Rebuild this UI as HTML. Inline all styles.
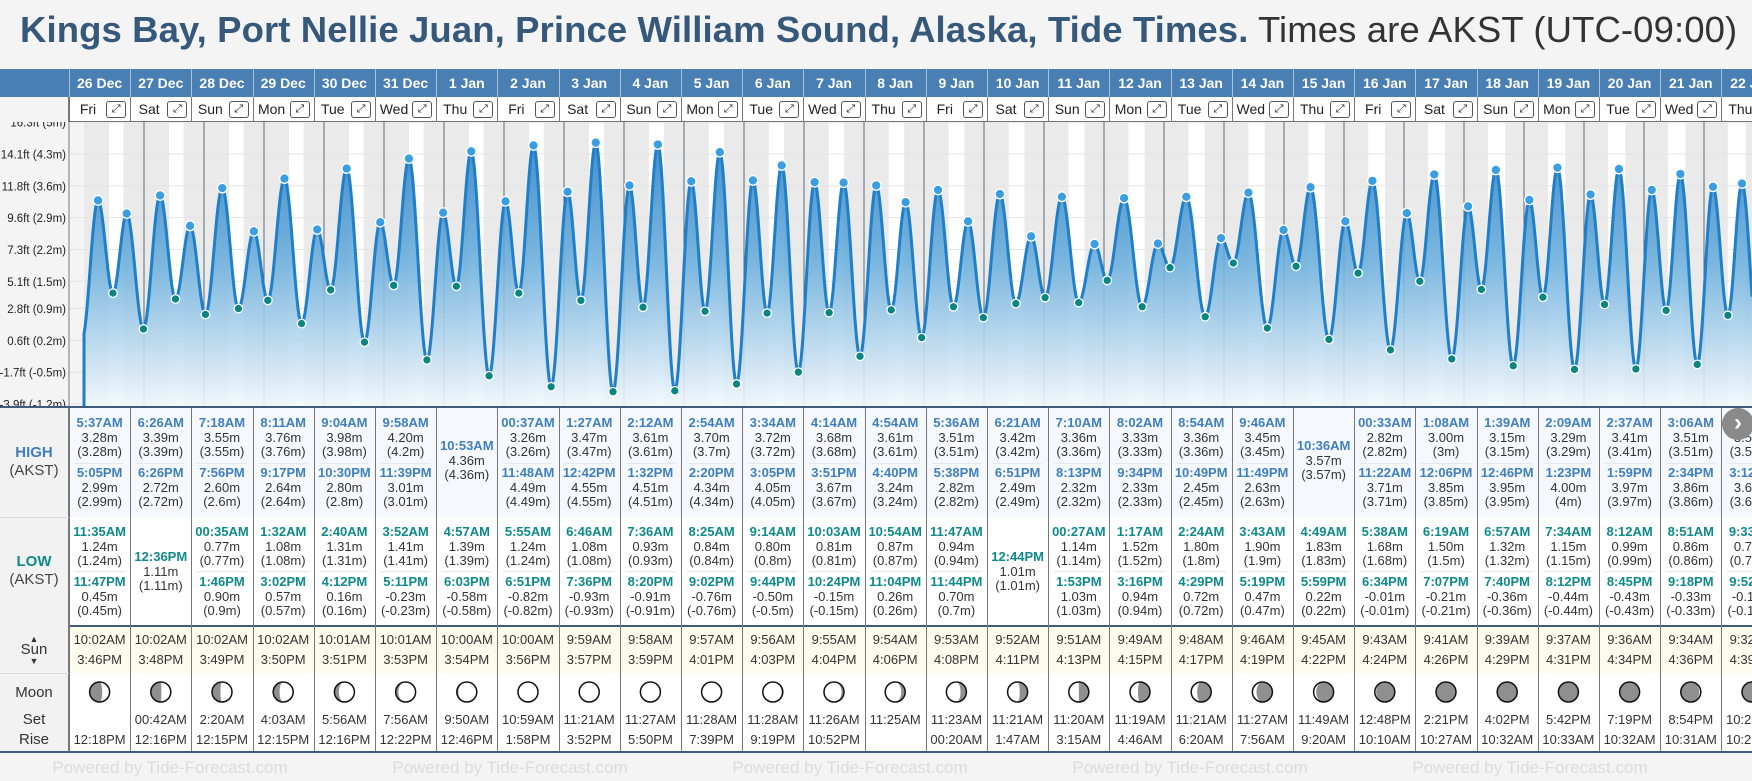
<!DOCTYPE html>
<html><head><meta charset="utf-8">
<style>
*{margin:0;padding:0;box-sizing:border-box}
body{width:1752px;height:781px;background:#f4f4f4;font-family:"Liberation Sans",sans-serif;position:relative;overflow:hidden;color:#333}
.abs{position:absolute}
#title{left:20px;top:9px;font-size:36.5px;white-space:nowrap;letter-spacing:0.1px}
#title b{color:#36597b}
#title span{color:#333}
.c{position:absolute;text-align:center;white-space:nowrap}
</style></head>
<body>
<div id="title" class="abs"><b>Kings Bay, Port Nellie Juan, Prince William Sound, Alaska, Tide Times.</b><span> Times are AKST (UTC-09:00)</span></div>
<div id="wrap" class="abs" style="left:0;top:0;width:1752px;height:781px;overflow:hidden"></div>
<script>
// ---- data ----
const dayLabels=["26 Dec","27 Dec","28 Dec","29 Dec","30 Dec","31 Dec","1 Jan","2 Jan","3 Jan","4 Jan","5 Jan","6 Jan","7 Jan","8 Jan","9 Jan","10 Jan","11 Jan","12 Jan","13 Jan","14 Jan","15 Jan","16 Jan","17 Jan","18 Jan","19 Jan","20 Jan","21 Jan","22 Jan"];
const weekdays=["Fri","Sat","Sun","Mon","Tue","Wed","Thu"];
const extDay=[-1,0,0,0,0,1,1,1,2,2,2,2,3,3,3,3,4,4,4,4,5,5,5,5,6,6,6,7,7,7,7,8,8,8,8,9,9,9,9,10,10,10,10,11,11,11,11,12,12,12,12,13,13,13,13,14,14,14,14,15,15,15,16,16,16,16,17,17,17,17,18,18,18,18,19,19,19,19,20,20,20,21,21,21,21,22,22,22,22,23,23,23,23,24,24,24,24,25,25,25,25,26,26,26,26,27,27,27,27];
const extTime=["11:10PM","5:37AM","11:35AM","5:05PM","11:47PM","6:26AM","12:36PM","6:26PM","00:35AM","7:18AM","1:46PM","7:56PM","1:32AM","8:11AM","3:02PM","9:17PM","2:40AM","9:04AM","4:12PM","10:30PM","3:52AM","9:58AM","5:11PM","11:39PM","4:57AM","10:53AM","6:03PM","00:37AM","5:55AM","11:48AM","6:51PM","1:27AM","6:46AM","12:42PM","7:36PM","2:12AM","7:36AM","1:32PM","8:20PM","2:54AM","8:25AM","2:20PM","9:02PM","3:34AM","9:14AM","3:05PM","9:44PM","4:14AM","10:03AM","3:51PM","10:24PM","4:54AM","10:54AM","4:40PM","11:04PM","5:36AM","11:47AM","5:38PM","11:44PM","6:21AM","12:44PM","6:51PM","00:27AM","7:10AM","1:53PM","8:13PM","1:17AM","8:02AM","3:16PM","9:34PM","2:24AM","8:54AM","4:29PM","10:49PM","3:43AM","9:46AM","5:19PM","11:49PM","4:49AM","10:36AM","5:59PM","00:33AM","5:38AM","11:22AM","6:34PM","1:08AM","6:19AM","12:06PM","7:07PM","1:39AM","6:57AM","12:46PM","7:40PM","2:09AM","7:34AM","1:23PM","8:12PM","2:37AM","8:12AM","1:59PM","8:45PM","3:06AM","8:51AM","2:34PM","9:18PM","3:35AM","9:33AM","3:12PM","9:52PM"];
const extHeight=[0.22,3.28,1.24,2.99,0.45,3.39,1.11,2.72,0.77,3.55,0.90,2.60,1.08,3.76,0.57,2.64,1.31,3.98,0.16,2.80,1.41,4.20,-0.23,3.01,1.39,4.36,-0.58,3.26,1.24,4.49,-0.82,3.47,1.08,4.55,-0.93,3.61,0.93,4.51,-0.91,3.70,0.84,4.34,-0.76,3.72,0.80,4.05,-0.50,3.68,0.81,3.67,-0.15,3.61,0.87,3.24,0.26,3.51,0.94,2.82,0.70,3.42,1.01,2.49,1.14,3.36,1.03,2.32,1.52,3.33,0.94,2.33,1.80,3.36,0.72,2.45,1.90,3.45,0.47,2.63,1.83,3.57,0.22,2.82,1.68,3.71,-0.01,3.00,1.50,3.85,-0.21,3.15,1.32,3.95,-0.36,3.29,1.15,4.00,-0.44,3.41,0.99,3.97,-0.43,3.51,0.86,3.86,-0.33,3.58,0.75,3.65,-0.15];
const sunRise=["10:02AM","10:02AM","10:02AM","10:02AM","10:01AM","10:01AM","10:00AM","10:00AM","9:59AM","9:58AM","9:57AM","9:56AM","9:55AM","9:54AM","9:53AM","9:52AM","9:51AM","9:49AM","9:48AM","9:46AM","9:45AM","9:43AM","9:41AM","9:39AM","9:37AM","9:36AM","9:34AM","9:32AM"];
const sunSet=["3:46PM","3:48PM","3:49PM","3:50PM","3:51PM","3:53PM","3:54PM","3:56PM","3:57PM","3:59PM","4:01PM","4:03PM","4:04PM","4:06PM","4:08PM","4:11PM","4:13PM","4:15PM","4:17PM","4:19PM","4:22PM","4:24PM","4:26PM","4:29PM","4:31PM","4:34PM","4:36PM","4:39PM"];
const moonSet=["","00:42AM","2:20AM","4:03AM","5:56AM","7:56AM","9:50AM","10:59AM","11:21AM","11:27AM","11:28AM","11:28AM","11:26AM","11:25AM","11:23AM","11:21AM","11:20AM","11:19AM","11:21AM","11:27AM","11:49AM","12:48PM","2:21PM","4:02PM","5:42PM","7:19PM","8:54PM","10:28PM"];
const moonRise=["12:18PM","12:16PM","12:15PM","12:15PM","12:16PM","12:22PM","12:46PM","1:58PM","3:52PM","5:50PM","7:39PM","9:19PM","10:52PM","","00:20AM","1:47AM","3:15AM","4:46AM","6:20AM","7:56AM","9:20AM","10:10AM","10:27AM","10:32AM","10:33AM","10:32AM","10:31AM","10:29AM"];
const yTicksFt=["16.3ft (5m)","14.1ft (4.3m)","11.8ft (3.6m)","9.6ft (2.9m)","7.3ft (2.2m)","5.1ft (1.5m)","2.8ft (0.9m)","0.6ft (0.2m)","-1.7ft (-0.5m)","-3.9ft (-1.2m)"];
const yTicksM=[5,4.3,3.6,2.9,2.2,1.5,0.9,0.2,-0.5,-1.2];

// ---- layout ----
const COL0=69, COLW=61.2;
const X0=84, PXH=2.5;
function parseT(s){const m=s.match(/(\d+):(\d+)(AM|PM)/);let h=+m[1]%12;if(m[3]=="PM")h+=12;return h+ +m[2]/60;}
function xT(day,s){return X0+(day*24+parseT(s))*PXH;}
function yM(m){return 404-(m+1.2)*45.45;}
const NS="http://www.w3.org/2000/svg";
const wrap=document.getElementById('wrap');
function div(x,y,w,h,css,name,inter){const d=document.createElement('div');d.className='abs';d.style.cssText=`left:${x}px;top:${y}px;width:${w}px;height:${h}px;`+(css||'');


wrap.appendChild(d);return d;}
function txt(x,y,s,css,name){const d=document.createElement('div');d.className='c';d.style.cssText=`left:${x-60}px;width:120px;top:${y-9}px;line-height:18px;`+(css||'');d.textContent=s;


wrap.appendChild(d);return d;}

div(0,69,1752,28,'background:#4a7fb4','header-band',false);
div(0,97,1752,25,'background:#fff;border-bottom:1px solid #777','weekday-row',false);
div(0,97,69,25,'background:#f4f4f4;border-right:1px solid #777','weekday-row-label',false);

const svg=document.createElementNS(NS,'svg');
svg.setAttribute('width',1752);svg.setAttribute('height',285);
svg.style.cssText='position:absolute;left:0;top:122px';


svg.setAttribute('viewBox','0 122 1752 285');
wrap.appendChild(svg);
function el(tag,attrs,name){const e=document.createElementNS(NS,tag);for(const k in attrs)e.setAttribute(k,attrs[k]);


svg.appendChild(e);return e;}
svg.innerHTML='<defs><linearGradient id="fg" x1="0" y1="0" x2="0" y2="1"><stop offset="0" stop-color="#2a80c6"/><stop offset="0.45" stop-color="#6aaedc"/><stop offset="1" stop-color="#f2f8fd"/></linearGradient></defs>';
el('rect',{x:0,y:122,width:69,height:285,fill:'#f4f4f4'},'y-axis-panel');
el('rect',{x:69,y:122,width:1683,height:285,fill:'#f4f4f4'},'plot-background');
for(let d=0;d<28;d++){
  const ns=d==0?X0:xT(d-1,sunSet[d-1]);const sr=xT(d,sunRise[d]);const ss=xT(d,sunSet[d]);
  el('rect',{x:ns,y:122,width:sr-ns,height:285,fill:'#eaeaea'},'night-band');
  el('rect',{x:sr,y:122,width:ss-sr,height:285,fill:'#ffffff'},'daylight-band');
}
el('rect',{x:xT(27,sunSet[27]),y:122,width:200,height:285,fill:'#eaeaea'},'night-band');
yTicksM.forEach((m,i)=>{el('line',{x1:69,x2:1752,y1:yM(m),y2:yM(m),stroke:'#e4e4e4','stroke-width':1},'y-gridline');});
for(let d=1;d<28;d++){el('line',{x1:X0+d*60,x2:X0+d*60,y1:122,y2:406,stroke:'#5b6b7b','stroke-width':1},'midnight-line');}
const ext=extDay.map((d,i)=>({x:xT(d,extTime[i]),m:extHeight[i]}));
let pts=[];
for(let x=X0;x<=1752;x+=1){let k=0;while(k<ext.length-2&&ext[k+1].x<x)k++;const a=ext[k],b=ext[k+1];const f=(x-a.x)/(b.x-a.x);const m=a.m+(b.m-a.m)*(1-Math.cos(Math.PI*f))/2;pts.push([x,yM(m)]);}
const line=pts.map((p,i)=>(i?'L':'M')+p[0].toFixed(1)+','+p[1].toFixed(1)).join('');
el('path',{d:line+`L1752,406L${X0},406Z`,fill:'url(#fg)','fill-opacity':0.88},'tide-area');
el('path',{d:`M${X0},406L${X0},${pts[0][1].toFixed(1)}`+line.replace(/^M/,'L'),fill:'none',stroke:'#1f7fc9','stroke-width':3,'stroke-linejoin':'round'},'tide-line');
ext.forEach((e,i)=>{if(i==0)return;const hi=e.m>ext[i-1].m;
  el('circle',{cx:e.x,cy:yM(e.m),r:hi?4.8:4.3,fill:hi?'#3a9fe2':'#0b8582',stroke:'#fff','stroke-width':1.3},hi?'high-tide-point':'low-tide-point');});
yTicksFt.forEach((s,i)=>{const t=el('text',{x:66,y:yM(yTicksM[i])+4.5,'text-anchor':'end','font-size':11.5,fill:'#222','font-family':'Liberation Sans, sans-serif'},'y-tick-label');t.textContent=s;});
el('line',{x1:69,x2:69,y1:122,y2:406,stroke:'#777'},'y-axis-line');

div(0,406,1752,2,'background:#3e5d7c','chart-divider',false);
div(0,408,1752,109,'background:#f5f9fd','high-row',false);
div(0,517,1752,108,'background:#fff','low-row',false);
div(0,625,1752,2,'background:#3e5d7c','section-divider',false);
div(0,627,1752,46,'background:#fbfbee','sun-row',false);
div(0,673,1752,78,'background:#fff','moon-row',false);
div(0,751,1752,2,'background:#3e5d7c','table-bottom-border',false);
div(0,408,69,343,'background:#f2f2f2;border-right:1px solid #777','row-label-column',false);
div(0,517,69,1,'background:#ddd','label-separator',false);
div(0,673,69,1,'background:#ddd','label-separator',false);
txt(34,453,'HIGH','font-weight:bold;color:#3f7fbf;font-size:15px','high-label');
txt(34,471,'(AKST)','font-size:15px;color:#444','high-timezone');
txt(34,562,'LOW','font-weight:bold;color:#0f8a8a;font-size:15px','low-label');
txt(34,580,'(AKST)','font-size:15px;color:#444','low-timezone');
txt(34,639,'▲','font-size:9px;color:#333','sunrise-arrow');
txt(34,650,'Sun','font-size:15px;color:#333','sun-label');
txt(34,661,'▼','font-size:9px;color:#333','sunset-arrow');
txt(34,693,'Moon','font-size:15px;color:#333','moon-label');
txt(34,720,'Set','font-size:15px;color:#333','moonset-label');
txt(34,740,'Rise','font-size:15px;color:#333','moonrise-label');

function trim(v){return '('+parseFloat(v.toFixed(2))+'m)';}
function entries(ysT,items,color,name){
  items.forEach((it,j)=>{const y=ysT[j];
    txt(it.cx,y,it.t,`font-weight:bold;font-size:13px;color:${color}`,name+'-time');
    txt(it.cx,y+15,it.m.toFixed(2)+'m','font-size:13px;color:#333',name+'-height');
    txt(it.cx,y+29,trim(it.m),'font-size:13px;color:#333',name+'-height-metric');});
}
for(let i=0;i<28;i++){
  const L=COL0+i*COLW,cx=L+COLW/2;
  div(L,69,COLW,28,'border-left:1px solid #a9c3dd','day-header-cell',false);
  txt(cx,83,dayLabels[i],'font-weight:bold;color:#fff;font-size:14px','day-header-label');
  div(L,97,COLW,24,'border-left:1px solid #777','weekday-cell',false);
  txt(L+19,109,weekdays[i%7],'font-size:14px;color:#222','weekday-label');
  const b=div(L+COLW-24,101,20,17,'border:1px solid #555;border-radius:3px;background:#fff;font-size:11px;line-height:15px;text-align:center;color:#222','expand-day-button',true);
  b.textContent='⤢';
  div(L,408,1,343,'background:#777','column-separator',false);
  const hs=[],ls=[];
  extDay.forEach((d,k)=>{if(d!==i||k==0)return;const hi=extHeight[k]>extHeight[k-1];(hi?hs:ls).push({cx,t:extTime[k],m:extHeight[k]});});
  if(hs.length==2){entries([423,473],hs,'#3f7fbf','high-tide');div(L+6,463,COLW-12,1,'background:#e3e8ee','entry-separator',false);}
  else entries([446],hs,'#3f7fbf','high-tide');
  if(ls.length==2){entries([532,582],ls,'#0f8a8a','low-tide');div(L+6,571,COLW-12,1,'background:#e6e6e6','entry-separator',false);}
  else entries([557],ls,'#0f8a8a','low-tide');
  txt(cx,640,sunRise[i],'font-size:13px;color:#333','sunrise-time');
  txt(cx,660,sunSet[i],'font-size:13px;color:#333','sunset-time');
  txt(cx,720,moonSet[i],'font-size:13px;color:#333','moonset-time');
  txt(cx,740,moonRise[i],'font-size:13px;color:#333','moonrise-time');
  const p=(((i-23.4)/29.53)%1+1)%1, r=10, mx=cx, my=692;
  const rx=Math.abs(Math.cos(2*Math.PI*p))*r;
  let dpath;
  if(p<0.5){dpath=`M${mx},${my-r}A${r},${r} 0 0 1 ${mx},${my+r}A${rx},${r} 0 0 ${p<0.25?0:1} ${mx},${my-r}Z`;}
  else{dpath=`M${mx},${my-r}A${r},${r} 0 0 0 ${mx},${my+r}A${rx},${r} 0 0 ${p>0.75?1:0} ${mx},${my-r}Z`;}
  const ms=document.createElementNS(NS,'svg');ms.setAttribute('width',1752);ms.setAttribute('height',781);ms.style.cssText='position:absolute;left:0;top:0;pointer-events:none';
  
  
  ms.innerHTML=`<circle cx="${mx}" cy="${my}" r="${r}" fill="#8f8f8f"/><path d="${dpath}" fill="#fff"/><circle cx="${mx}" cy="${my}" r="${r}" fill="none" stroke="#111" stroke-width="1.5"/>`;
  wrap.appendChild(ms);
}
for(let k=0;k<6;k++){txt(160+k*340,768,'Powered by Tide-Forecast.com','font-size:17px;color:#dcdcdc;width:260px;left:'+(40+k*340)+'px','footer-watermark');}
const nb=div(1722,408,32,32,'border-radius:50%;background:#8a8a8a;color:#fff;font-size:24px;font-weight:bold;line-height:30px;text-align:center','next-days-button',true);
nb.textContent='›';
</script>
</body></html>
